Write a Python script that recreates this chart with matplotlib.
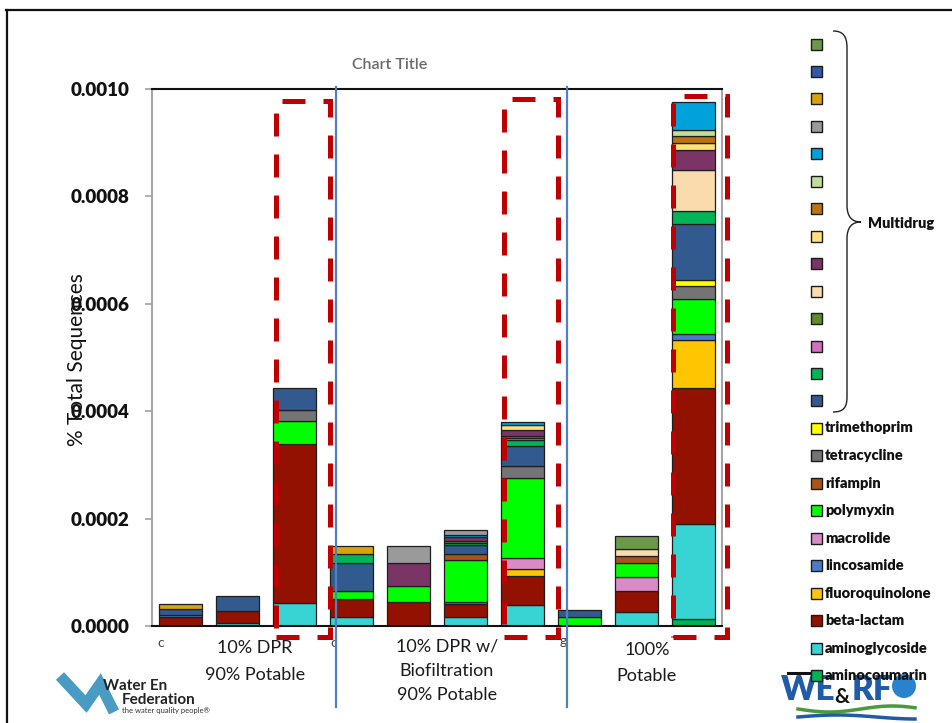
import matplotlib
matplotlib.use("Agg")
import matplotlib.pyplot as plt
import numpy as np
from matplotlib.patches import Rectangle, Ellipse, PathPatch
from matplotlib.path import Path
from matplotlib.lines import Line2D
from matplotlib.ticker import FormatStrFormatter

plt.rcParams["font.family"] = ["Lato", "DejaVu Sans"]

# ---------------------------------------------------------------- data
# abundances in units of 1e-5 (fraction of total sequences), one entry per sample
UNIT = 1e-5
samples = ["s1", "s2", "s3", "s4", "s5", "s6", "s7", "s8", "s9", "s10"]

aminocoumarin   = [0, 0, 0, 0, 0, 0, 0, 0, 0, 1.30]
aminoglycoside  = [0, 0.63, 4.28, 1.68, 0, 1.68, 3.85, 0, 2.60, 17.70]
beta_lactam     = [1.68, 2.16, 29.60, 3.30, 4.47, 2.50, 5.40, 0, 3.91, 25.30]
fluoroquinolone = [0, 0, 0, 0, 0, 0, 1.30, 0, 0, 9.00]
lincosamide     = [0.43, 0, 0, 0, 0, 0.25, 0, 0, 0, 1.06]
macrolide       = [0, 0, 0, 0, 0, 0, 2.18, 0, 2.61, 0]
polymyxin       = [0, 0, 4.23, 1.62, 2.92, 7.93, 14.82, 1.68, 2.61, 6.52]
rifampin        = [0, 0, 0, 0, 0, 1.00, 0, 0, 1.30, 0]
tetracycline    = [0, 0, 2.10, 0, 0, 0, 2.18, 0, 0, 2.48]
trimethoprim    = [0, 0, 0, 0, 0, 0, 0, 0, 0, 1.12]

# multidrug resistance classes (md1 = top of legend / top of stack)
md14 = [1.00, 2.74, 4.17, 5.08, 0, 1.75, 3.85, 1.38, 0, 10.40]
md13 = [0, 0, 0, 1.68, 0, 0.30, 1.12, 0, 0, 2.48]
md12 = [0, 0, 0, 0, 0, 0, 0.32, 0, 0, 0]
md11 = [0, 0, 0, 0, 0, 0.37, 0.43, 0, 0, 0]
md10 = [0, 0, 0, 0, 0, 0, 0, 0, 1.30, 7.63]
md9  = [0, 0, 0, 0, 4.41, 0.80, 0.99, 0, 0, 3.72]
md8  = [0, 0, 0, 0, 0, 0, 1.02, 0, 0, 1.25]
md7  = [0, 0, 0, 0, 0, 0, 0, 0, 0, 1.36]
md6  = [0, 0, 0, 0, 0, 0, 0, 0, 0, 1.12]
md5  = [0, 0, 0, 0, 0, 0.37, 0.47, 0, 0, 5.21]
md4  = [0, 0, 0, 0, 3.05, 1.00, 0, 0, 0, 0]
md3  = [0.93, 0, 0, 1.55, 0, 0, 0, 0, 0, 0]
md2  = [0, 0, 0, 0, 0, 0, 0, 0, 0, 0]
md1  = [0, 0, 0, 0, 0, 0, 0, 0, 2.50, 0]

# stacking order, bottom first: (legend label, values, colour)
labelled = [
    ("aminocoumarin", aminocoumarin, "#00b454"),
    ("aminoglycoside", aminoglycoside, "#38d3d3"),
    ("beta-lactam", beta_lactam, "#931100"),
    ("fluoroquinolone", fluoroquinolone, "#ffc600"),
    ("lincosamide", lincosamide, "#4a7cc6"),
    ("macrolide", macrolide, "#d88bc6"),
    ("polymyxin", polymyxin, "#00ff00"),
    ("rifampin", rifampin, "#aa5418"),
    ("tetracycline", tetracycline, "#747474"),
    ("trimethoprim", trimethoprim, "#ffff00"),
]
multidrug = [
    ("", md14, "#335a8e"),
    ("", md13, "#00b458"),
    ("", md12, "#d070c0"),
    ("", md11, "#5e8c2c"),
    ("", md10, "#f9dbad"),
    ("", md9, "#7a3466"),
    ("", md8, "#ffe07a"),
    ("", md7, "#bb7410"),
    ("", md6, "#c0e09a"),
    ("", md5, "#00a2dc"),
    ("", md4, "#9a9a9a"),
    ("", md3, "#d9a40a"),
    ("", md2, "#3258a8"),
    ("", md1, "#6a9a48"),
]
series = labelled + multidrug

group_labels = [
    ["10% DPR", "90% Potable"],
    ["10% DPR w/", "Biofiltration", "90% Potable"],
    ["100%", "Potable"],
]
group_label_fragments = ["c", "c", "g"]

# ---------------------------------------------------------------- figure
W, H = 953, 723
fig = plt.figure(figsize=(W / 100, H / 100), dpi=100)


def px(x, y):
    """pixel position (from top-left) -> figure fraction"""
    return (x / W, 1 - y / H)


ax = fig.add_axes([152 / W, 1 - 626 / H, 570 / W, 537 / H])

x = np.arange(len(samples))
bottom = np.zeros(len(samples))
for name, vals, col in series:
    v = np.asarray(vals, dtype=float) * UNIT
    m = v > 0
    if m.any():
        ax.bar(x[m], v[m], bottom=bottom[m], width=0.75, color=col,
               edgecolor="#1e1e1e", linewidth=0.9, zorder=2)
    bottom += v

ax.set_xlim(-0.5, len(samples) - 0.5)
ax.set_ylim(0, 0.001)
ax.set_yticks(np.arange(0, 0.00101, 0.0002))
ax.yaxis.set_major_formatter(FormatStrFormatter("%.4f"))
ax.set_xticks([])
ax.tick_params(axis="y", direction="out", length=5, width=1.2, color="#a0a0a0",
               pad=11, labelsize=13.5, labelcolor="#111111")
for lab in ax.get_yticklabels():
    lab.set_fontweight("heavy")
for side, col in [("left", "#a6a6a6"), ("right", "#a6a6a6"),
                  ("top", "#111111"), ("bottom", "#111111")]:
    ax.spines[side].set_color(col)
    ax.spines[side].set_linewidth(1.5)

fig.text(*px(77, 360), "% Total Sequences", rotation=90, ha="center",
         va="center", fontsize=15, color="#111111", zorder=6)
fig.text(*px(390, 65), "Chart Title", ha="center", va="center",
         fontsize=11.5, fontweight="semibold", color="#6a6a6a")

# ---------------------------------------------------------------- slide frame
fig.add_artist(Line2D([px(6, 10)[0], px(953, 10)[0]], [px(6, 10)[1]] * 2,
                      color="#111111", lw=1.6))
fig.add_artist(Line2D([px(7, 10)[0]] * 2, [px(7, 10)[1], px(7, 723)[1]],
                      color="#111111", lw=1.6))

# ---------------------------------------------------------------- WEF logo
zx, zy = zip(*[px(60, 676), px(86, 704), px(100, 684), px(114, 712)])
fig.add_artist(Line2D(zx, zy, color="#4a9bc4", lw=8, solid_capstyle="butt",
                      solid_joinstyle="miter", zorder=1))
fig.text(*px(103, 686), "Water Environment", fontsize=11, fontweight="bold",
         color="#222222", va="center", ha="left", zorder=1)
fig.text(*px(122, 700), "Federation", fontsize=11, fontweight="bold",
         color="#222222", va="center", ha="left", zorder=1)
fig.text(*px(122, 711), "the water quality people\u00ae", fontsize=5.5,
         color="#333333", va="center", ha="left", zorder=1)

# tick-label remnants peeking out beside the group boxes
for (fx_, fy_), s in zip([(157, 643), (330, 643), (560, 641)],
                         group_label_fragments):
    fig.text(*px(fx_, fy_), s, fontsize=10, color="#444444", ha="left",
             va="center", zorder=1.5)

# ---------------------------------------------------------------- group boxes
boxes = [(167, 328, 692), (338, 558, 708), (570, 725, 692)]
centres = [255, 447, 647]
line_y = [[648, 675], [647, 671, 695], [650, 676]]
for (bx0, bx1, by1), cx, lines, ys in zip(boxes, centres, group_labels, line_y):
    fig.add_artist(Rectangle(px(bx0, by1), (bx1 - bx0) / W, (by1 - 631) / H,
                             facecolor="white", edgecolor="none", zorder=2,
                             transform=fig.transFigure))
    for s, yy in zip(lines, ys):
        fig.text(*px(cx, yy), s, ha="center", va="center", fontsize=13,
                 color="#1a1a1a", zorder=3)

# ---------------------------------------------------------------- highlight boxes
for (x0, x1, y0, y1) in [(276, 330, 101, 637), (504, 558, 99, 637),
                         (673, 727, 96, 637)]:
    fig.add_artist(Rectangle(px(x0, y1), (x1 - x0) / W, (y1 - y0) / H,
                             fill=False, edgecolor="#c00000", lw=3.6,
                             linestyle=(0, (4.6, 3.6)), zorder=4,
                             transform=fig.transFigure))

# group separators
for xs in [336, 567]:
    fig.add_artist(Line2D([xs / W] * 2, [px(0, 87)[1], px(0, 707)[1]],
                          color="#4f81bd", lw=1.6, zorder=5))

# ---------------------------------------------------------------- WE&RF logo
fig.add_artist(Line2D([px(788, 0)[0], px(811, 0)[0]], [px(0, 673)[1]] * 2,
                      color="#111111", lw=2.2, zorder=1))
fig.text(*px(781, 690), "WE", fontsize=24, fontweight="heavy", color="#1f5ba6",
         ha="left", va="center", zorder=1)
fig.text(*px(834, 697), "&", fontsize=15, fontweight="bold", color="#111111",
         ha="left", va="center", zorder=1.2)
fig.text(*px(852, 690), "RF", fontsize=24, fontweight="heavy", color="#1f5ba6",
         ha="left", va="center", zorder=1)
fig.add_artist(Ellipse(px(904, 686), 24 / W, 24 / H, facecolor="#2a82cc",
                       edgecolor="none", zorder=1, transform=fig.transFigure))
wx = np.linspace(798, 915, 40)
fig.add_artist(Line2D(wx / W, [px(0, 709 + 3 * np.sin((v - 798) / 20))[1] for v in wx],
                      color="#4a9a3a", lw=2.5, zorder=1))
fig.add_artist(Line2D(wx / W, [px(0, 717 - 2 * np.sin((v - 798) / 25))[1] for v in wx],
                      color="#1f5ba6", lw=2.5, zorder=1))

# ---------------------------------------------------------------- legend
SQ = 11
md_top, md_step = 44.0, 27.46
for i, (_, _, col) in enumerate(reversed(multidrug)):
    cy = md_top + i * md_step
    fig.add_artist(Rectangle(px(811, cy + SQ / 2), SQ / W, SQ / H,
                             facecolor=col, edgecolor="#1a1a1a", lw=1.0,
                             zorder=6, transform=fig.transFigure))

lab_top, lab_step = 428.0, 27.55
for i, (name, _, col) in enumerate(reversed(labelled)):
    cy = lab_top + i * lab_step
    fig.add_artist(Rectangle(px(811, cy + SQ / 2), SQ / W, SQ / H,
                             facecolor=col, edgecolor="#1a1a1a", lw=1.0,
                             zorder=6, transform=fig.transFigure))
    fig.text(*px(825, cy), name, fontsize=10.5, fontweight="heavy",
             color="#111111", ha="left", va="center", zorder=6)

# brace grouping the multidrug entries
bverts = [(833, 31), (843, 31), (847, 36), (847, 48),
          (847, 205),
          (847, 217), (852, 222), (861, 222),
          (852, 222), (847, 227), (847, 239),
          (847, 397),
          (847, 408), (843, 412), (833, 412)]
bcodes = [Path.MOVETO, Path.CURVE4, Path.CURVE4, Path.CURVE4,
          Path.LINETO,
          Path.CURVE4, Path.CURVE4, Path.CURVE4,
          Path.CURVE4, Path.CURVE4, Path.CURVE4,
          Path.LINETO,
          Path.CURVE4, Path.CURVE4, Path.CURVE4]
fig.add_artist(PathPatch(Path([px(a, b) for a, b in bverts], bcodes),
                         facecolor="none", edgecolor="#222222", lw=1.0,
                         transform=fig.transFigure, zorder=6))
fig.text(*px(868, 224), "Multidrug", fontsize=10.5, fontweight="heavy",
         color="#111111", ha="left", va="center", zorder=6)

fig.savefig("out.png", dpi=100)
